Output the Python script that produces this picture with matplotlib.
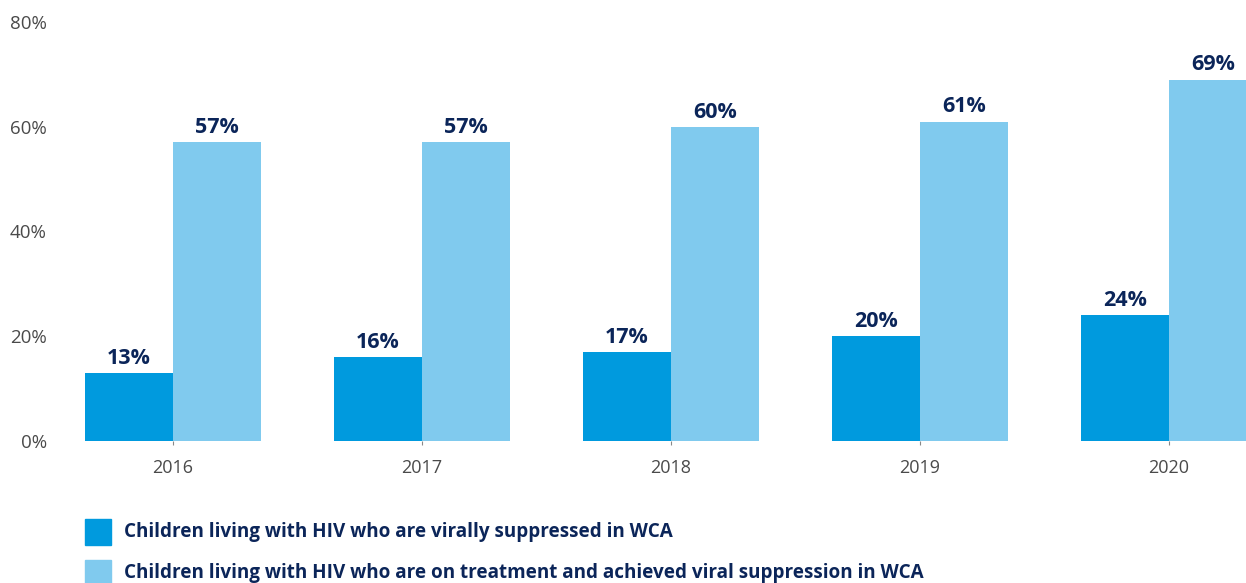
import numpy as np
import matplotlib.pyplot as plt
from matplotlib.patches import Rectangle

# Dane
lata = ['2016', '2017', '2018', '2019', '2020']
supresja = [13, 16, 17, 20, 24]
leczenie_supresja = [57, 57, 60, 61, 69]
etykiety_legendy = ['Children living with HIV who are virally suppressed in WCA',
                    'Children living with HIV who are on treatment and achieved viral suppression in WCA']

kolor_ciemny = '#009ADE'
kolor_jasny = '#80CAEE'
kolor_tekstu = '#0B2559'

plt.rcParams['font.family'] = ['Open Sans', 'DejaVu Sans']

fig = plt.figure(figsize=(12.46, 5.83), dpi=100)
ax = fig.add_axes([55 / 1246, 1 - 441 / 583, 1 - 55 / 1246, (441 - 22) / 583])

x = np.arange(len(lata))
w = 0.353
ax.bar(x - w / 2, supresja, w, color=kolor_ciemny)
ax.bar(x + w / 2, leczenie_supresja, w, color=kolor_jasny)

for xi, v in zip(x - w / 2, supresja):
    ax.annotate(f'{v}%', (xi, v), xytext=(0, 3), textcoords='offset points',
                ha='center', va='bottom', fontsize=15.5, fontweight='bold', color=kolor_tekstu)
for xi, v in zip(x + w / 2, leczenie_supresja):
    ax.annotate(f'{v}%', (xi, v), xytext=(0, 3), textcoords='offset points',
                ha='center', va='bottom', fontsize=15.5, fontweight='bold', color=kolor_tekstu)

ax.set_xlim(-0.474, 4.309)
ax.set_ylim(0, 80)
ax.set_yticks([0, 20, 40, 60, 80])
ax.set_yticklabels([f'{t}%' for t in [0, 20, 40, 60, 80]])
ax.set_xticks(x)
ax.set_xticklabels(lata)
ax.tick_params(axis='y', length=0, labelsize=13.5, labelcolor='#4a4a4a', pad=6)
ax.tick_params(axis='x', length=3, color='#888888', labelsize=13, labelcolor='#4a4a4a', pad=10)
for s in ax.spines.values():
    s.set_visible(False)

# Legenda
for i, (kol, tekst) in enumerate(zip([kolor_ciemny, kolor_jasny], etykiety_legendy)):
    y0 = 583 - 545 - i * 41
    fig.add_artist(Rectangle((85 / 1246, y0 / 583), 26 / 1246, 26 / 583,
                             transform=fig.transFigure, color=kol))
    fig.text(124 / 1246, (y0 + 13) / 583, tekst, ha='left', va='center',
             fontsize=13.55, fontweight='bold', color=kolor_tekstu)

fig.savefig('out.png', dpi=100)
